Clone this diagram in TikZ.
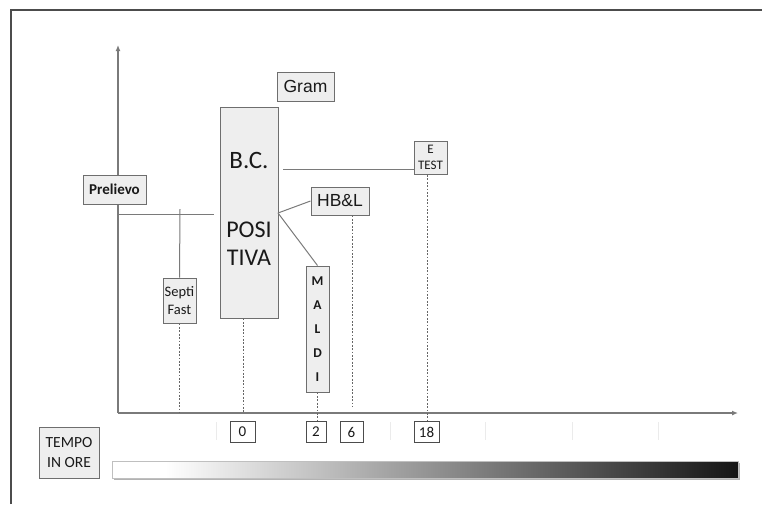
\documentclass[tikz,border=0pt]{standalone}
\usepackage{fontspec}
\setmainfont{Carlito}
\newfontfamily\arialf{Liberation Sans}
\usetikzlibrary{arrows.meta}
\definecolor{boxfill}{HTML}{EEEEEE}
\definecolor{boxline}{HTML}{6E6E6E}
\definecolor{conn}{HTML}{7A7A7A}
\tikzset{
  boxn/.style={draw=boxline, fill=boxfill, line width=1pt, inner sep=0pt, align=center, text=black!90},
  conline/.style={draw=conn, line width=1pt},
  dotline/.style={draw=black!60, line width=1pt, dash pattern=on 1.8pt off 1.6pt},
  numbox/.style={draw=black!70, fill=white, line width=0.8pt, inner sep=0pt, minimum height=21pt, text=black!90, font=\fontsize{15}{15}\selectfont},
  txt/.style={inner sep=0pt, text=black!90},
  faint/.style={draw=black!8, line width=0.8pt}
}
\begin{document}
\begin{tikzpicture}[x=1pt,y=-1pt]
\useasboundingbox (0,0) rectangle (762,504);
% frame
\draw[black!70, line width=1.5pt] (11,504) -- (11,10) -- (762,10);
% axes
\coordinate (O) at (118,413);
\coordinate (Ytop) at (118,45);
\coordinate (Xend) at (738,413);
\draw[conn, line width=1.2pt, -{Latex[length=6pt,width=5pt]}] (O) -- (Ytop);
\draw[conn, line width=1.2pt, -{Latex[length=6pt,width=5pt]}] (O) -- (Xend);
% faint ticks
\foreach \x in {216,390,485,572,658} \draw[faint] (\x,422) -- (\x,440);
% boxes
\node[boxn, minimum width=63pt, minimum height=29pt, font=\bfseries\fontsize{15}{15}\selectfont] (prel) at (114.5,189.5) {Prelievo};
\node[boxn, minimum width=33pt, minimum height=45pt, font=\fontsize{14.5}{18}\selectfont] (septi) at (179.5,300.5) {Septi\\Fast};
\node[boxn, minimum width=58pt, minimum height=211pt] (bc) at (249,212.5) {};
\node[txt, font=\fontsize{25}{26}\selectfont] (bct) at (249,160) {B.C.};
\node[txt, font=\fontsize{24}{26}\selectfont] (pos) at (249,230) {POSI};
\node[txt, font=\fontsize{24}{26}\selectfont] (tiva) at (249,258) {TIVA};
\node[boxn, minimum width=57pt, minimum height=29pt, font=\arialf\fontsize{17.5}{18}\selectfont] (gram) at (305.5,86.5) {Gram};
\node[boxn, minimum width=33pt, minimum height=33pt, font=\fontsize{13}{16}\selectfont] (etest) at (430.5,157.5) {E\\TEST};
\node[boxn, minimum width=58pt, minimum height=28pt, font=\arialf\fontsize{17.5}{18}\selectfont] (hbl) at (340,201) {HB\&L};
\node[boxn, minimum width=23pt, minimum height=126pt, font=\bfseries\fontsize{13.5}{24}\selectfont] (maldi) at (317.5,329) {M\\A\\L\\D\\I};
\node[boxn, minimum width=60pt, minimum height=51pt, font=\fontsize{15.5}{20}\selectfont] (tempo) at (69,452.5) {TEMPO\\IN ORE};
% number boxes
\node[numbox, minimum width=25pt] (n0) at (242.5,432) {0};
\node[numbox, minimum width=20pt] (n2) at (316,432) {2};
\node[numbox, minimum width=23pt] (n6) at (351.5,432) {6};
\node[numbox, minimum width=25pt] (n18) at (426.5,432) {18};
% connectors
\coordinate (pl) at (118,214);
\coordinate (pr) at (214,214);
\draw[conline] (pl) -- (pr);
\coordinate (st) at (180,209);
\draw[conline] (st) -- (septi.north);
\coordinate (bcr) at (283,169);
\draw[conline] (bcr) -- (etest.west |- bcr);
\coordinate (bce) at (278,213);
\draw[conline] (bce) -- (hbl.west);
\draw[conline] (bce) -- (maldi.north);
% dotted
\draw[dotline] (septi.south) -- (septi.south |- O);
\draw[dotline] (bc.south -| 243,0) -- (243,413);
\draw[dotline] (maldi.south) -- (maldi.south |- n2.north);
\coordinate (hbd) at (352,407);
\draw[dotline] (hbl.south -| hbd) -- (hbd);
\coordinate (etd) at (427,175);
\draw[dotline] (etd) -- (etd |- n18.north);
% gradient bar
\fill[black!30] (114,462.5) rectangle (739.5,480);
\fill[white] (112,461) rectangle (166,478);
\shade[left color=white, right color=black!92] (165,461) rectangle (738,478);
\draw[black!25, line width=0.6pt] (112,461) rectangle (738,478);
\end{tikzpicture}
\end{document}
